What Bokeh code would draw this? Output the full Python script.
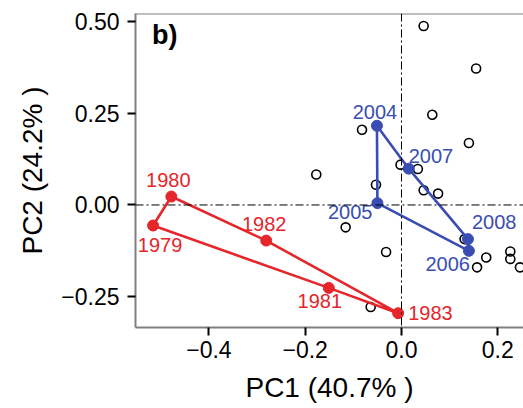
from bokeh.plotting import figure
from bokeh.models import ColumnDataSource, Span, FixedTicker, Label
from bokeh.core.properties import value
from bokeh.embed import file_html
from bokeh.resources import INLINE

# Early years (red), listed in hull order
early_years = ["1979", "1980", "1982", "1983", "1981"]
early_pc1 = [-0.516, -0.478, -0.281, -0.007, -0.151]
early_pc2 = [-0.056, 0.023, -0.097, -0.295, -0.226]

# Recent years (blue), listed in hull order
late_years = ["2004", "2007", "2008", "2006", "2005"]
late_pc1 = [-0.051, 0.015, 0.138, 0.140, -0.050]
late_pc2 = [0.216, 0.099, -0.093, -0.125, 0.005]

# Remaining years (open circles)
other_pc1 = [0.046, 0.155, 0.064, -0.082, 0.140, -0.177, -0.002, 0.034, -0.053, 0.046,
             0.076, -0.116, -0.032, 0.131, 0.157, 0.176, 0.226, 0.226, 0.246, -0.064]
other_pc2 = [0.488, 0.372, 0.246, 0.205, 0.169, 0.083, 0.110, 0.098, 0.055, 0.040,
             0.031, -0.061, -0.128, -0.093, -0.170, -0.143, -0.127, -0.147, -0.170, -0.278]

x_ticks = [-0.4, -0.2, 0.0, 0.2]
x_tick_labels = ["\u22120.4", "\u22120.2", "0.0", "0.2"]
y_ticks = [-0.25, 0.0, 0.25, 0.5]
y_tick_labels = ["\u22120.25", "0.00", "0.25", "0.50"]

x_title = "PC1 (40.7% )"
y_title = "PC2 (24.2% )"
panel_tag = "b)"

RED = "#e5262b"
BLUE = "#3a4db3"
FRAME = "#7f7f7f"
FONT = "Liberation Sans"

p = figure(width=523, height=408, output_backend="svg", toolbar_location=None,
           x_range=(-0.5525, 0.2534), y_range=(-0.334, 0.522),
           min_border_left=135, min_border_right=0, min_border_top=13, min_border_bottom=81,
           background_fill_color="white", border_fill_color="white")
p.outline_line_color = None
p.xgrid.grid_line_color = None
p.ygrid.grid_line_color = None

for ax in (p.xaxis, p.yaxis):
    ax.axis_line_color = FRAME
    ax.axis_line_width = 2
    ax.major_tick_line_color = "black"
    ax.major_tick_line_width = 2
    ax.major_tick_out = 8
    ax.major_tick_in = 0
    ax.minor_tick_line_color = None
    ax.major_label_text_font = FONT
    ax.major_label_text_font_size = "23px"
    ax.major_label_text_color = "black"
    ax.axis_label_text_font = FONT
    ax.axis_label_text_font_size = "28px"
    ax.axis_label_text_font_style = "normal"
    ax.axis_label_text_color = "black"

p.xaxis.ticker = FixedTicker(ticks=x_ticks)
p.xaxis.major_label_overrides = dict(zip(x_ticks, x_tick_labels))
p.yaxis.ticker = FixedTicker(ticks=y_ticks)
p.yaxis.major_label_overrides = dict(zip(y_ticks, y_tick_labels))
p.xaxis.axis_label = x_title
p.yaxis.axis_label = y_title
p.xaxis.major_label_standoff = 5
p.yaxis.major_label_standoff = 8
p.xaxis.axis_label_standoff = 11
p.yaxis.axis_label_standoff = 10

# top edge of the panel frame
p.add_layout(Span(location=0.522, dimension="width", line_color=FRAME, line_width=2))

# zero reference lines
p.add_layout(Span(location=0, dimension="height", line_color="black", line_width=1,
                  line_dash="8 3 2 3"))
p.add_layout(Span(location=0, dimension="width", line_color="black", line_width=1,
                  line_dash="8 3 2 3"))

# other years
p.scatter(other_pc1, other_pc2, marker="circle", size=9, fill_color=None,
          line_color="black", line_width=1.6)

# hulls and highlighted years
label_layout = {
    "1979": ("center", 7, 19), "1980": ("center", -3, -17), "1982": ("center", -2, -17),
    "1983": ("left", 10, 0), "1981": ("center", -9, 13),
    "2004": ("center", -2, -14), "2007": ("left", 0, -13), "2008": ("left", 4, -17),
    "2006": ("right", 1, 13), "2005": ("right", -5, 9),
}

for years, xs, ys, color in ((early_years, early_pc1, early_pc2, RED),
                             (late_years, late_pc1, late_pc2, BLUE)):
    p.patch(xs, ys, fill_color=None, line_color=color, line_width=2.6)
    p.scatter(xs, ys, marker="circle", size=11, fill_color=color, line_color=color)
    src = ColumnDataSource(dict(
        x=xs, y=ys, text=years,
        align=[label_layout[t][0] for t in years],
        dx=[label_layout[t][1] for t in years],
        dy=[label_layout[t][2] for t in years],
    ))
    p.text(x="x", y="y", text="text", source=src, text_align="align",
           text_baseline="middle", x_offset="dx", y_offset="dy",
           text_color=color, text_font=value(FONT), text_font_size="20px")

p.add_layout(Label(x=-0.518, y=0.503, text=panel_tag, text_font=FONT,
                   text_font_size="27px", text_font_style="bold",
                   text_baseline="top", text_align="left", text_color="black"))

open("out.html", "w").write(file_html(p, INLINE))
